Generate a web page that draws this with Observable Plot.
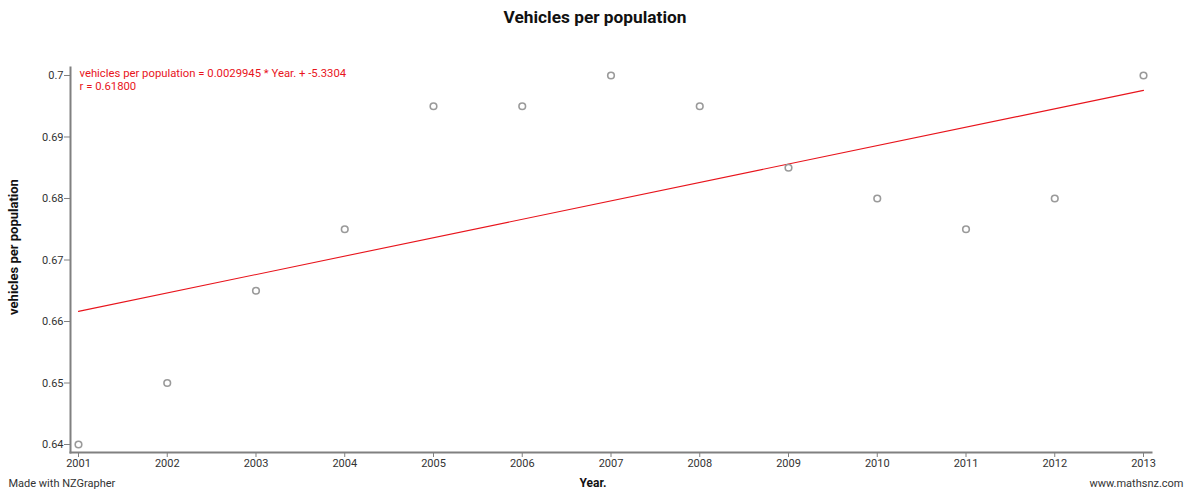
<!DOCTYPE html>
<html>
<head>
<meta charset="utf-8">
<script src="https://cdn.jsdelivr.net/npm/d3@7"></script>
<script src="https://cdn.jsdelivr.net/npm/@observablehq/plot@0.6"></script>
<style>
  html, body { margin: 0; padding: 0; background: #fff; }
  #chart svg { display: block; }
</style>
</head>
<body>
<div id="chart"></div>
<script>
// Vehicles per head of population, by year
const years = [2001, 2002, 2003, 2004, 2005, 2006, 2007, 2008, 2009, 2010, 2011, 2012, 2013];
const vehiclesPerPopulation = [0.64, 0.65, 0.665, 0.675, 0.695, 0.695, 0.70, 0.695, 0.685, 0.68, 0.675, 0.68, 0.70];
const yTicks = [0.64, 0.65, 0.66, 0.67, 0.68, 0.69, 0.7];
const xTicks = years;

const data = years.map((year, i) => ({year, value: vehiclesPerPopulation[i]}));

// Least-squares fit for the equation label
const mx = d3.mean(years), my = d3.mean(vehiclesPerPopulation);
const sxy = d3.sum(data, d => (d.year - mx) * (d.value - my));
const sxx = d3.sum(data, d => (d.year - mx) ** 2);
const syy = d3.sum(data, d => (d.value - my) ** 2);
const slope = sxy / sxx;
const intercept = my - slope * mx;
const r = sxy / Math.sqrt(sxx * syy);
const equation = `vehicles per population = ${slope.toPrecision(5)} * Year. + ${intercept.toFixed(4)}\nr = ${(Math.round(r * 1000) / 1000).toFixed(5)}`;

const axisGrey = "#808080";
const one = [0];

const chart = Plot.plot({
  width: 1188,
  height: 490,
  marginLeft: 70,
  marginRight: 37,
  marginTop: 67,
  marginBottom: 38,
  style: {fontFamily: "Roboto, sans-serif", fontSize: "11px", color: "#333", background: "#fff"},
  x: {domain: [2000.91, 2013.09]},
  y: {domain: [0.6387, 0.7013]},
  marks: [
    Plot.frame({anchor: "left", stroke: axisGrey, strokeWidth: 2}),
    Plot.frame({anchor: "bottom", stroke: axisGrey, strokeWidth: 2}),
    Plot.axisX({ticks: xTicks, tickFormat: d => String(d), tickSize: 5, tickPadding: 2, label: null, stroke: axisGrey, fill: "#333"}),
    Plot.axisY({ticks: yTicks, tickFormat: d => String(d), tickSize: 6, tickPadding: 1, label: null, stroke: axisGrey, fill: "#333"}),
    Plot.linearRegressionY(data, {x: "year", y: "value", ci: 0, stroke: "#e8141c", strokeWidth: 1.1}),
    Plot.dot(data, {x: "year", y: "value", r: 3.3, stroke: "#9a9a9a", strokeWidth: 1.6, fill: "#fff"}),
    Plot.text(one, {frameAnchor: "top-left", text: () => equation, textAnchor: "start", lineAnchor: "top",
      dx: 9, dy: 0, fill: "#e8141c", fontSize: 11.3, lineHeight: 1.15}),
    Plot.text(one, {frameAnchor: "top", text: () => "Vehicles per population", lineAnchor: "middle",
      dx: -16, dy: -50, fontSize: 17.3, fontWeight: "bold", fill: "#111"}),
    Plot.text(one, {frameAnchor: "bottom", text: () => "Year.", lineAnchor: "middle",
      dx: -18, dy: 31, fontSize: 12, fontWeight: "bold", fill: "#111"}),
    Plot.text(one, {frameAnchor: "left", text: () => "vehicles per population", rotate: -90,
      textAnchor: "middle", lineAnchor: "middle",
      dx: -57, dy: -13, fontSize: 13, fontWeight: "bold", fill: "#111"}),
    Plot.text(one, {frameAnchor: "bottom-left", text: () => "Made with NZGrapher", textAnchor: "start", lineAnchor: "middle",
      dx: -62, dy: 31, fontSize: 11, fill: "#333"}),
    Plot.text(one, {frameAnchor: "bottom-right", text: () => "www.mathsnz.com", textAnchor: "end", lineAnchor: "middle",
      dx: 32, dy: 31, fontSize: 11, fill: "#333"})
  ]
});

document.getElementById("chart").appendChild(chart);
</script>
</body>
</html>
